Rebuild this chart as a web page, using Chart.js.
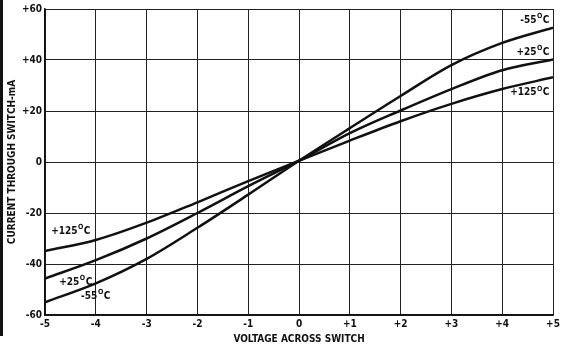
<!DOCTYPE html>
<html>
<head>
<meta charset="utf-8">
<script src="https://cdn.jsdelivr.net/npm/chart.js@4"></script>
<style>
  html, body { margin: 0; padding: 0; background: #fff; }
  #wrap { position: relative; width: 564px; height: 347px; }
  #edge { position: absolute; left: 0; top: 0; width: 3px; height: 336px; background: #111; }
</style>
</head>
<body>
<div id="wrap">
  <canvas id="chart" width="564" height="347"></canvas>
  <div id="edge"></div>
</div>
<script>
// voltage across switch (V)
const volts = [-5, -4, -3, -2, -1, 0, 1, 2, 3, 4, 5];
// current through switch (mA) per temperature
const minus55 = [-55, -47.6, -38, -25.8, -12.8, 0.5, 13.3, 25.9, 38, 46.7, 52.7];
const plus25 = [-45.7, -38.5, -30, -20, -9.5, 0.5, 11.3, 20.2, 28.6, 36, 40.2];
const plus125 = [-34.9, -30.6, -23.8, -15.8, -7.5, 0.5, 8.4, 16, 22.8, 28.6, 33.2];

// curve labels: [text, x, y, align] in data units
const curveLabels = [
  ['+125', -4.88, -27.2, 'left'],
  ['+25', -4.72, -47.1, 'left'],
  ['-55', -4.29, -52.6, 'left'],
  ['-55', 4.93, 55.6, 'right'],
  ['+25', 4.93, 43.1, 'right'],
  ['+125', 4.93, 27.1, 'right']
];

const font = '"Liberation Sans Narrow", "DejaVu Sans Condensed", sans-serif';

function series(vals) {
  return vals.map((v, i) => ({ x: volts[i], y: v }));
}

const labelPlugin = {
  id: 'curveLabels',
  afterDatasetsDraw(chart) {
    const ctx = chart.ctx;
    const xs = chart.scales.x, ys = chart.scales.y;
    const big = 'bold 10px ' + font, small = 'bold 7px ' + font;
    ctx.save();
    ctx.fillStyle = '#111';
    ctx.textBaseline = 'middle';
    ctx.textAlign = 'left';
    curveLabels.forEach(([t, x, y, align]) => {
      ctx.font = big;
      const w1 = ctx.measureText(t).width, w3 = ctx.measureText('C').width;
      ctx.font = small;
      const w2 = ctx.measureText('O').width;
      const total = w1 + w2 + w3 + 1;
      let px = xs.getPixelForValue(x);
      if (align === 'right') px -= total;
      const py = ys.getPixelForValue(y);
      ctx.font = big;
      ctx.fillText(t, px, py);
      px += w1 + 0.5;
      ctx.font = small;
      ctx.fillText('O', px, py - 4);
      px += w2 + 0.5;
      ctx.font = big;
      ctx.fillText('C', px, py);
    });
    ctx.restore();
  }
};

const lineStyle = { borderColor: '#111', borderWidth: 2.5, pointRadius: 0, fill: false, cubicInterpolationMode: 'monotone' };

new Chart(document.getElementById('chart'), {
  type: 'line',
  data: {
    datasets: [
      Object.assign({ label: '-55', data: series(minus55) }, lineStyle),
      Object.assign({ label: '+25', data: series(plus25) }, lineStyle),
      Object.assign({ label: '+125', data: series(plus125) }, lineStyle)
    ]
  },
  options: {
    responsive: false,
    animation: false,
    layout: { padding: { left: 6, right: 11, top: 2, bottom: 2 } },
    plugins: { legend: { display: false }, tooltip: { enabled: false } },
    scales: {
      x: {
        type: 'linear', min: -5, max: 5,
        ticks: {
          stepSize: 1, color: '#111', padding: 3,
          font: { family: font, size: 10, weight: 'bold' },
          callback: v => (v > 0 ? '+' + v : '' + v)
        },
        grid: { color: '#222', lineWidth: 1, tickLength: 0 },
        border: { color: '#111', width: 1.5 },
        title: { display: true, text: 'VOLTAGE ACROSS SWITCH', color: '#111', padding: { top: 0, bottom: 0 },
          font: { family: font, size: 10, weight: 'bold' } }
      },
      y: {
        min: -60, max: 60,
        ticks: {
          stepSize: 20, color: '#111', padding: 3,
          font: { family: font, size: 10, weight: 'bold' },
          callback: v => (v > 0 ? '+' + v : '' + v)
        },
        grid: { color: '#222', lineWidth: 1, tickLength: 0 },
        border: { color: '#111', width: 1.5 },
        title: { display: true, text: 'CURRENT THROUGH SWITCH-mA', color: '#111', padding: { top: 0, bottom: 1 },
          font: { family: font, size: 10, weight: 'bold' } }
      }
    }
  },
  plugins: [labelPlugin]
});
</script>
</body>
</html>
